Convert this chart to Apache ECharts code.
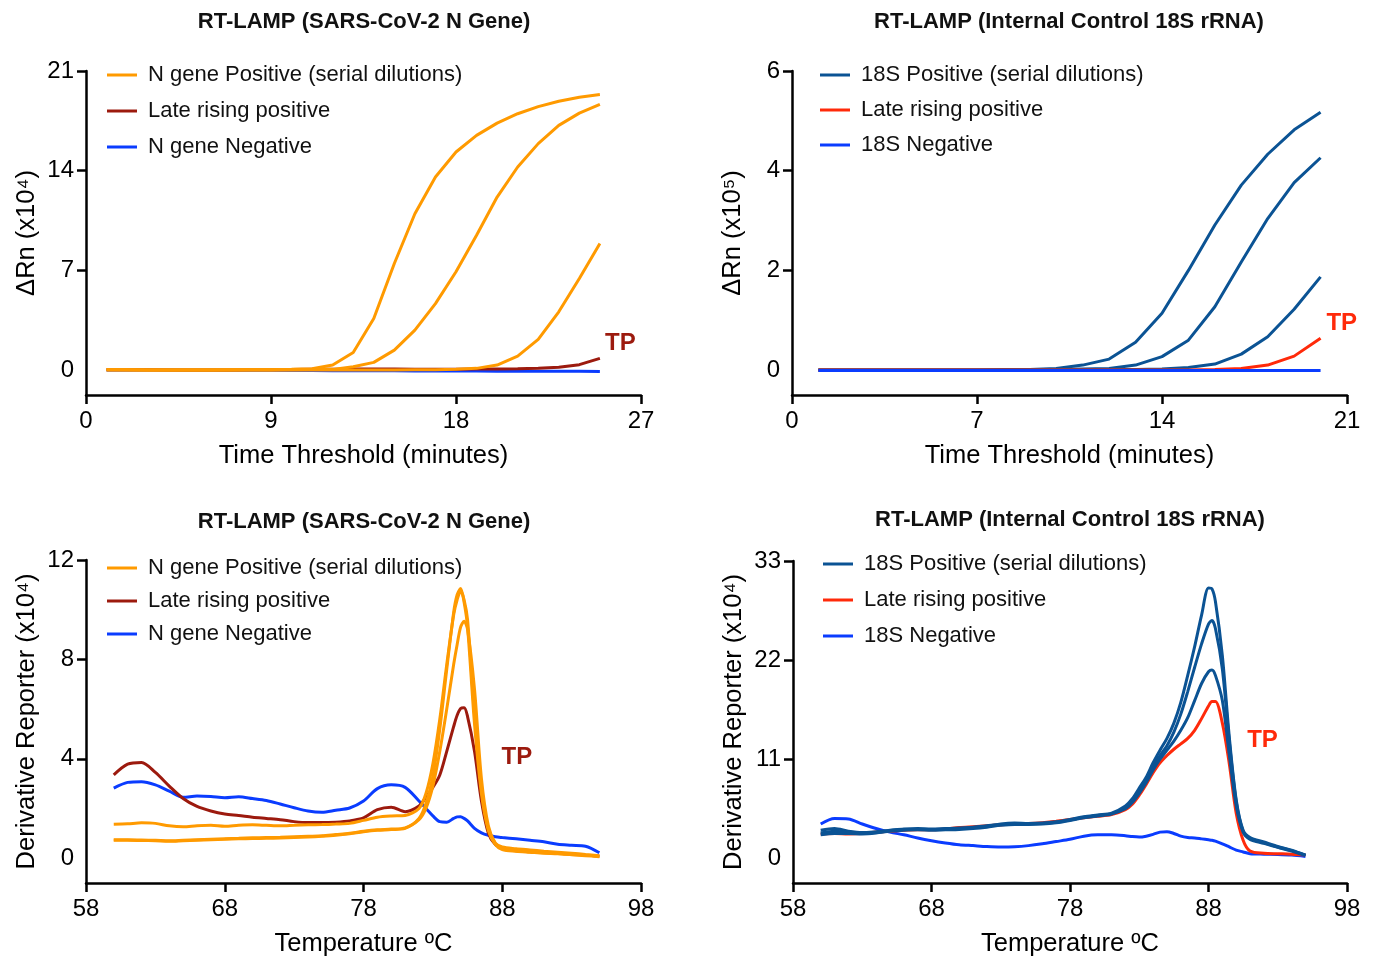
<!DOCTYPE html>
<html>
<head>
<meta charset="utf-8">
<script src="https://cdn.jsdelivr.net/npm/echarts@6/dist/echarts.min.js"></script>
<style>
  html, body { margin: 0; padding: 0; background: #fff; }
  #chart { width: 1377px; height: 958px; }
</style>
</head>
<body>
<div id="chart"></div>
<script>
// amplification curves (minutes)
const timeN = [1,2,3,4,5,6,7,8,9,10,11,12,13,14,15,16,17,18,19,20,21,22,23,24,25];
const nPos1 = [0.02,0.02,0.01,0.01,0.01,0.01,0.02,0.02,0.03,0.05,0.1,0.35,1.24,3.62,7.48,10.98,13.56,15.31,16.48,17.34,18.0,18.5,18.88,19.16,19.35];
const nPos2 = [0.02,0.02,0.01,0.01,0.01,0.01,0.01,0.02,0.02,0.03,0.04,0.05,0.23,0.54,1.4,2.8,4.67,6.9,9.47,12.15,14.26,15.9,17.18,18.04,18.65];
const nPos3 = [0.02,0.01,0.01,0.01,0,0,0,0,0,0,0,0,0,0,0.01,0.02,0.03,0.05,0.12,0.35,0.98,2.15,4.09,6.43,8.88];
const nLate = [0.02,0.02,0.02,0.01,0.01,0.01,0.01,0.02,0.03,0.04,0.05,0.06,0.07,0.07,0.07,0.06,0.06,0.06,0.07,0.08,0.1,0.13,0.2,0.38,0.82];
const nNeg = [0,0,0,0,-0.01,-0.01,-0.01,-0.02,-0.02,-0.03,-0.03,-0.04,-0.04,-0.05,-0.05,-0.06,-0.06,-0.07,-0.07,-0.08,-0.08,-0.08,-0.09,-0.09,-0.1];

const time18S = [1,2,3,4,5,6,7,8,9,10,11,12,13,14,15,16,17,18,19,20];
const sPos1 = [0,0,0,0,0,0,0,0.01,0.01,0.03,0.1,0.22,0.56,1.14,2.0,2.91,3.71,4.33,4.82,5.17];
const sPos2 = [0,0,0,0,0,0,0,0,0,0.01,0.02,0.03,0.1,0.27,0.6,1.27,2.17,3.04,3.76,4.26];
const sPos3 = [0,0,0,0,0,0,0,0,0,0,0,0.01,0.01,0.02,0.05,0.12,0.32,0.67,1.22,1.87];
const sLate = [0,0,0,0,0,0,0,0,0,0,0,0,0,0,0,0.01,0.03,0.1,0.28,0.64];
const sNeg = [-0.01,-0.01,-0.01,-0.01,-0.01,-0.01,-0.01,-0.01,-0.01,-0.01,-0.01,-0.01,-0.01,-0.01,-0.01,-0.01,-0.01,-0.01,-0.01,-0.01];

// melt curves (deg C)
const tempN = [60,61,62,63,64,65,66,67,68,69,70,71,72,73,74,75,76,77,78,79,80,81,
  82,82.5,83,83.5,84,84.5,84.75,85,85.25,85.5,86,86.5,87,87.5,88,89,90,91,92,93,94,95];
const mnPos1 = [0.72,0.72,0.71,0.7,0.68,0.7,0.72,0.74,0.76,0.78,0.79,0.8,0.81,0.83,0.85,0.88,0.92,0.98,1.06,1.12,1.15,1.2,
  1.6,2.2,3.3,5.2,7.6,9.9,10.6,10.85,10.3,9.3,5.4,2.6,1.1,0.55,0.35,0.28,0.24,0.2,0.18,0.14,0.1,0.06];
const mnPos2 = [1.36,1.38,1.42,1.4,1.3,1.26,1.3,1.32,1.28,1.32,1.34,1.32,1.3,1.32,1.34,1.35,1.37,1.4,1.52,1.65,1.7,1.72,
  2.0,2.6,3.8,5.6,7.8,9.8,10.4,10.75,10.4,9.6,5.8,2.8,1.2,0.6,0.45,0.38,0.33,0.28,0.24,0.2,0.15,0.1];
const mnPos3 = [0.74,0.74,0.73,0.72,0.7,0.72,0.74,0.76,0.78,0.8,0.82,0.83,0.84,0.86,0.88,0.9,0.95,1.0,1.08,1.14,1.17,1.22,
  1.55,2.0,2.9,4.3,6.0,7.8,8.6,9.3,9.53,9.2,6.8,3.2,1.3,0.6,0.4,0.3,0.26,0.22,0.19,0.15,0.12,0.08];
const mnLate = [3.35,3.78,3.85,3.45,2.9,2.4,2.08,1.9,1.78,1.72,1.65,1.6,1.55,1.47,1.43,1.43,1.45,1.5,1.62,1.95,2.05,1.87,
  2.1,2.45,2.85,3.35,4.3,5.3,5.75,6.02,6.05,5.7,4.3,2.3,1.0,0.55,0.42,0.3,0.26,0.23,0.2,0.17,0.12,0.08];
const mnNeg = [2.82,3.05,3.08,2.95,2.7,2.45,2.5,2.48,2.43,2.47,2.4,2.32,2.18,2.03,1.9,1.85,1.93,2.02,2.3,2.8,2.95,2.85,
  2.3,2.0,1.7,1.47,1.45,1.6,1.66,1.67,1.6,1.5,1.2,1.02,0.92,0.86,0.83,0.78,0.72,0.66,0.56,0.52,0.48,0.22];

const temp18S = [60,61,62,63,64,65,66,67,68,69,70,71,72,73,74,75,76,77,78,79,80,81,
  82,82.5,83,83.5,84,84.5,85,85.5,86,86.5,87,87.5,88,88.25,88.5,89,89.5,90,90.5,91,92,93,94,95];
const msPos1 = [2.8,3.0,2.9,2.8,2.85,3.05,3.2,3.2,3.2,3.25,3.3,3.4,3.55,3.8,3.9,3.85,3.9,4.05,4.3,4.6,4.8,5.0,
  5.8,6.6,7.8,9.0,10.6,12.0,13.3,15.0,17.3,20.3,23.5,27.0,30.0,29.9,28.5,22.5,13.5,6.5,3.1,2.3,1.8,1.3,0.9,0.35];
const msPos2 = [2.6,2.75,2.75,2.7,2.8,3.0,3.1,3.15,3.1,3.15,3.2,3.3,3.45,3.65,3.75,3.75,3.8,3.95,4.2,4.5,4.7,4.9,
  5.6,6.3,7.4,8.6,10.2,11.4,12.5,14.0,16.0,18.5,21.2,23.8,26.0,26.4,25.5,21.0,13.0,6.3,3.0,2.2,1.7,1.25,0.85,0.35];
const msPos3 = [3.1,3.3,3.0,2.85,2.95,3.1,3.25,3.3,3.25,3.3,3.35,3.45,3.6,3.75,3.8,3.8,3.85,4.0,4.25,4.55,4.75,4.95,
  5.5,6.2,7.2,8.4,9.8,11.0,12.0,13.0,14.2,15.6,17.5,19.4,20.7,20.9,20.3,17.5,11.5,5.8,2.9,2.1,1.65,1.2,0.8,0.3];
const msLate = [2.7,2.75,2.7,2.75,2.9,3.0,3.1,3.15,3.15,3.25,3.4,3.5,3.6,3.7,3.8,3.85,3.95,4.1,4.3,4.5,4.65,4.85,
  5.4,6.0,7.0,8.2,9.5,10.6,11.4,12.1,12.7,13.3,14.2,15.5,16.9,17.4,17.4,15.0,10.5,5.0,2.0,0.8,0.55,0.5,0.45,0.35];
const msNeg = [3.8,4.4,4.35,3.8,3.3,2.9,2.6,2.25,1.95,1.7,1.5,1.4,1.3,1.25,1.28,1.4,1.6,1.85,2.1,2.45,2.6,2.6,
  2.5,2.4,2.35,2.45,2.65,2.9,2.95,2.75,2.45,2.3,2.25,2.15,2.05,2.0,1.9,1.6,1.25,0.9,0.7,0.5,0.45,0.42,0.35,0.2];

const legendText = {
  nPos: "N gene Positive (serial dilutions)", nLate: "Late rising positive", nNeg: "N gene Negative",
  sPos: "18S Positive (serial dilutions)", sLate: "Late rising positive", sNeg: "18S Negative",
  mnPos: "N gene Positive (serial dilutions)", mnLate: "Late rising positive", mnNeg: "N gene Negative",
  msPos: "18S Positive (serial dilutions)", msLate: "Late rising positive", msNeg: "18S Negative",
};

const ORANGE = "#ff9a00";
const DARKRED = "#9c1a0e";
const BLUE = "#0a3cff";
const NAVY = "#0b5394";
const RED = "#ff2a0a";
const FONT = "Liberation Sans, Arial, sans-serif";

const zip = (xs, ys) => xs.map((x, i) => [x, ys[i]]);

function line(name, idx, xs, ys, color, smooth) {
  return {
    name: name, type: "line", xAxisIndex: idx, yAxisIndex: idx,
    data: zip(xs, ys), showSymbol: false, symbol: "none",
    smooth: smooth ? 0.3 : false, color: color,
    lineStyle: { color: color, width: 3 }, z: 3,
  };
}

function tp(series, coord, color) {
  series.markPoint = {
    symbol: "rect", symbolSize: [40, 30], silent: true,
    itemStyle: { color: "rgba(0,0,0,0)" },
    label: { show: true, formatter: "TP", color: color, fontSize: 24, fontWeight: "bold", fontFamily: FONT },
    data: [{ coord: coord }],
  };
  return series;
}

function xAxis(idx, min, max, step, name) {
  return {
    gridIndex: idx, type: "value", min: min, max: max, interval: step,
    axisLine: { show: true, onZero: false, lineStyle: { color: "#000", width: 2.5 } },
    axisTick: { show: true, length: 9, lineStyle: { color: "#000", width: 2.5 } },
    axisLabel: { color: "#000", fontSize: 24, margin: 14, fontFamily: FONT },
    splitLine: { show: false },
    name: name, nameLocation: "middle", nameGap: 48,
    nameTextStyle: { color: "#000", fontSize: 25.5, fontFamily: FONT },
  };
}

function yAxis(idx, min, max, ticks, name) {
  return {
    gridIndex: idx, type: "value", min: min, max: max,
    axisLine: { show: true, lineStyle: { color: "#000", width: 2.5 } },
    axisTick: { show: true, length: 9, customValues: ticks.slice(1), lineStyle: { color: "#000", width: 2.5 } },
    axisLabel: { color: "#000", fontSize: 24, margin: 12, customValues: ticks, fontFamily: FONT },
    splitLine: { show: false },
    name: name, nameLocation: "middle", nameGap: 46,
    nameTextStyle: { color: "#000", fontSize: 25.5, fontFamily: FONT },
  };
}

function legend(left, top, gap, names) {
  return {
    orient: "vertical", left: left, top: top, itemGap: gap, padding: 0,
    icon: "rect", itemWidth: 30, itemHeight: 3,
    data: names, formatter: (n) => legendText[n], selectedMode: false,
    textStyle: { color: "#111", fontSize: 22, fontFamily: FONT, padding: [0, 0, 0, 6] },
  };
}

function title(text, x, top) {
  return {
    text: text, left: x, top: top, textAlign: "center", padding: 0,
    textStyle: { color: "#111", fontSize: 22, fontWeight: "bold", fontFamily: FONT },
  };
}

const series = [
  line("nNeg", 0, timeN, nNeg, BLUE),
  tp(line("nLate", 0, timeN, nLate, DARKRED), [26, 1.9], DARKRED),
  line("nPos", 0, timeN, nPos3, ORANGE),
  line("nPos", 0, timeN, nPos2, ORANGE),
  line("nPos", 0, timeN, nPos1, ORANGE),

  line("sPos", 1, time18S, sPos3, NAVY),
  line("sPos", 1, time18S, sPos2, NAVY),
  line("sPos", 1, time18S, sPos1, NAVY),
  tp(line("sLate", 1, time18S, sLate, RED), [20.8, 0.94], RED),
  line("sNeg", 1, time18S, sNeg, BLUE),

  line("mnNeg", 2, tempN, mnNeg, BLUE, true),
  tp(line("mnLate", 2, tempN, mnLate, DARKRED, true), [89.05, 4.05], DARKRED),
  line("mnPos", 2, tempN, mnPos3, ORANGE, true),
  line("mnPos", 2, tempN, mnPos2, ORANGE, true),
  line("mnPos", 2, tempN, mnPos1, ORANGE, true),

  line("msNeg", 3, temp18S, msNeg, BLUE, true),
  tp(line("msLate", 3, temp18S, msLate, RED, true), [91.9, 13.1], RED),
  line("msPos", 3, temp18S, msPos3, NAVY, true),
  line("msPos", 3, temp18S, msPos2, NAVY, true),
  line("msPos", 3, temp18S, msPos1, NAVY, true),
];

const chart = echarts.init(document.getElementById("chart"), null, { renderer: "canvas" });
chart.setOption({
  animation: false,
  backgroundColor: "#fff",
  title: [
    title("RT-LAMP (SARS-CoV-2 N Gene)", 364, 11),
    title("RT-LAMP (Internal Control 18S rRNA)", 1069, 11),
    title("RT-LAMP (SARS-CoV-2 N Gene)", 364, 511),
    title("RT-LAMP (Internal Control 18S rRNA)", 1070, 509),
  ],
  legend: [
    legend(107, 64, 14, ["nPos", "nLate", "nNeg"]),
    legend(820, 64, 13, ["sPos", "sLate", "sNeg"]),
    legend(107, 557, 11, ["mnPos", "mnLate", "mnNeg"]),
    legend(823, 553, 14, ["msPos", "msLate", "msNeg"]),
  ],
  grid: [
    { left: 86, top: 71, width: 555, height: 324 },
    { left: 792, top: 71, width: 555, height: 324 },
    { left: 86, top: 560, width: 555, height: 323 },
    { left: 793, top: 561, width: 554, height: 322 },
  ],
  xAxis: [
    xAxis(0, 0, 27, 9, "Time Threshold (minutes)"),
    xAxis(1, 0, 21, 7, "Time Threshold (minutes)"),
    xAxis(2, 58, 98, 10, "Temperature \u00baC"),
    xAxis(3, 58, 98, 10, "Temperature \u00baC"),
  ],
  yAxis: [
    yAxis(0, -1.75, 21, [0, 7, 14, 21], "\u0394Rn (x10\u2074)"),
    yAxis(1, -0.5, 6, [0, 2, 4, 6], "\u0394Rn (x10\u2075)"),
    yAxis(2, -1, 12, [0, 4, 8, 12], "Derivative Reporter (x10\u2074)"),
    yAxis(3, -2.75, 33, [0, 11, 22, 33], "Derivative Reporter (x10\u2074)"),
  ],
  series: series,
});
</script>
</body>
</html>
